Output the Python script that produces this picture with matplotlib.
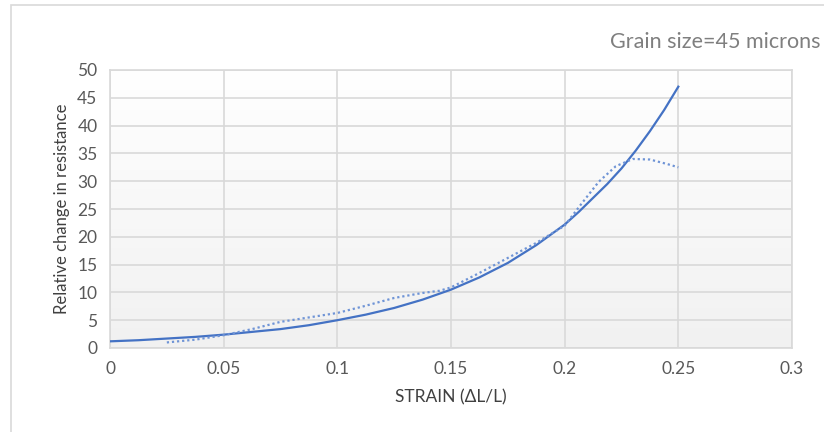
import numpy as np
import matplotlib.pyplot as plt
from matplotlib.patches import Rectangle

plt.rcParams['font.family'] = ['Lato', 'DejaVu Sans']

# solid curve (trend)
strain_fit = [0, 0.0125, 0.025, 0.0375, 0.05, 0.0625, 0.075, 0.0875, 0.1, 0.1125,
              0.125, 0.1375, 0.15, 0.1625, 0.175, 0.1875, 0.2, 0.20625, 0.2125, 0.21875,
              0.225, 0.23125, 0.2375, 0.24375, 0.25]
resist_fit = [1.2, 1.4, 1.7, 2.0, 2.4, 2.9, 3.4, 4.1, 5.0, 6.0,
              7.2, 8.7, 10.5, 12.7, 15.3, 18.5, 22.2, 24.5, 27.0, 29.5,
              32.3, 35.5, 39.0, 42.8, 47.0]

# dotted curve (measured)
strain_meas = [0.025, 0.0375, 0.05, 0.0625, 0.075, 0.0875, 0.1, 0.1125, 0.125, 0.1375,
               0.145, 0.15, 0.1625, 0.175, 0.1875, 0.2, 0.2075, 0.215, 0.2225, 0.23,
               0.2375, 0.245, 0.25]
resist_meas = [1.0, 1.5, 2.3, 3.4, 4.7, 5.5, 6.3, 7.6, 9.0, 9.9,
               10.3, 10.9, 13.5, 16.2, 18.9, 22.0, 26.0, 29.9, 32.7, 34.0,
               33.9, 33.1, 32.5]

xticks = [0, 0.05, 0.1, 0.15, 0.2, 0.25, 0.3]
xtick_labels = ['0', '0.05', '0.1', '0.15', '0.2', '0.25', '0.3']
yticks = list(range(0, 51, 5))

fig = plt.figure(figsize=(8.24, 4.32), dpi=100)
fig.patches.append(Rectangle((11 / 824, -0.1), 1.2, 1.1 - 5 / 432, transform=fig.transFigure,
                             fill=False, edgecolor='#d9d9d9', linewidth=1.2))

ax = fig.add_axes([110 / 824, 1 - 348 / 432, 682 / 824, 278 / 432])

# soft gradient in the plot area
grad = np.linspace(0, 1, 256).reshape(-1, 1)
ax.imshow(grad, extent=[0, 1, 0, 1], transform=ax.transAxes, aspect='auto',
          cmap=plt.matplotlib.colors.LinearSegmentedColormap.from_list('g', ['#f1f1f1', '#ffffff']),
          origin='lower', zorder=0)

ax.plot(strain_fit, resist_fit, color='#4472C4', linewidth=1.6, zorder=3)
ax.plot(strain_meas, resist_meas, color='#6f94d6', linewidth=1.6,
        linestyle=(0, (1, 1.3)), zorder=3)

ax.set_xlim(0, 0.3)
ax.set_ylim(0, 50)
ax.set_xticks(xticks)
ax.set_xticklabels(xtick_labels)
ax.set_yticks(yticks)
ax.grid(True, color='#d9d9d9', linewidth=1.2, zorder=1)
ax.set_axisbelow(True)
for s in ax.spines.values():
    s.set_color('#d9d9d9')
    s.set_linewidth(1.2)
ax.tick_params(length=0, labelsize=12.5, labelcolor='#595959', pad=9)

ax.set_xlabel('STRAIN (ΔL/L)', fontsize=12.5, color='#404040', labelpad=9)
ax.set_ylabel('Relative change in resistance', fontsize=12, color='#404040', labelpad=5)

fig.text(821 / 824, 1 - 42 / 432, 'Grain size=45 microns', ha='right', va='center',
         fontsize=15.5, color='#7f7f7f')

fig.savefig('out.png', dpi=100)
